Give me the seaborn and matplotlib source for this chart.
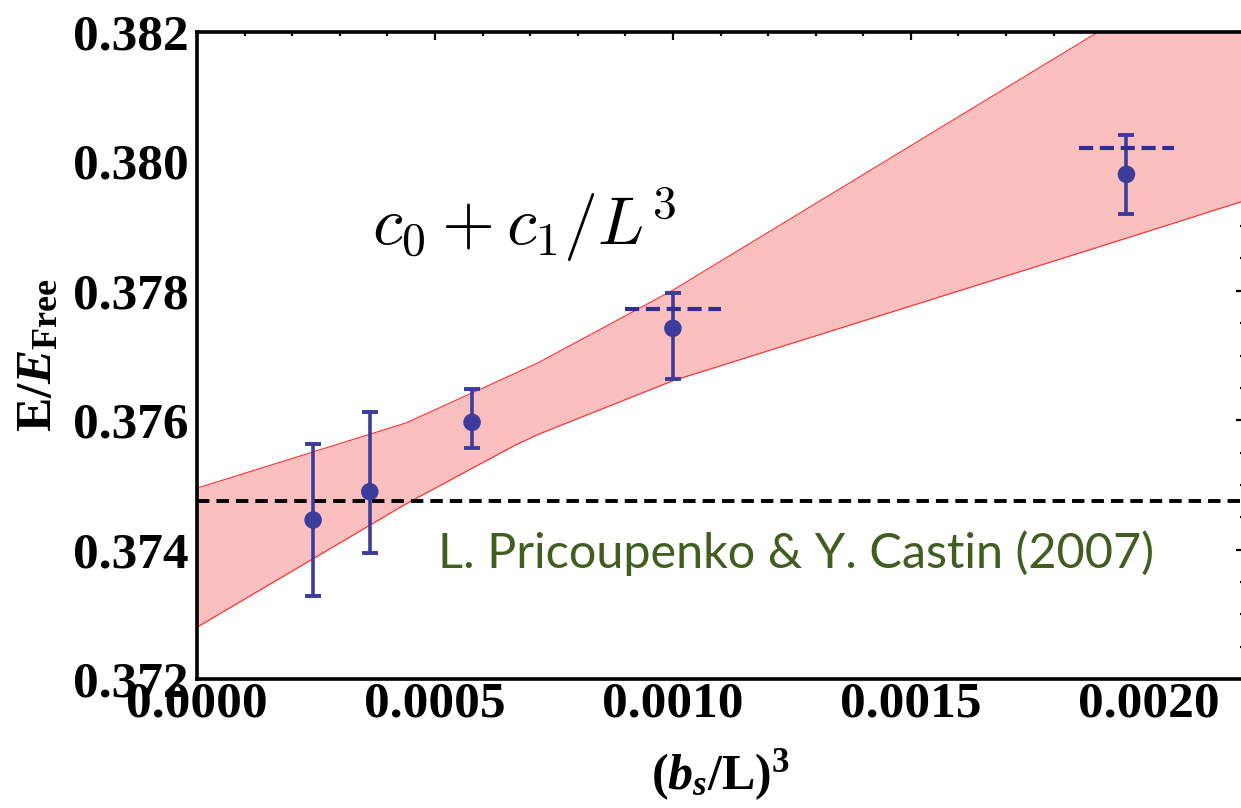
import numpy as np
import pandas as pd
import matplotlib
matplotlib.use("Agg")
import matplotlib.pyplot as plt
import seaborn as sns
from matplotlib.ticker import MultipleLocator, FormatStrFormatter

# ---- data ----
x_pts = [0.000244, 0.000363, 0.000578, 0.001000, 0.001953]
y_pts = [0.374457, 0.374895, 0.375967, 0.377420, 0.379800]
y_err_lo = [0.373283, 0.373947, 0.375575, 0.376637, 0.379192]
y_err_hi = [0.375632, 0.376122, 0.376477, 0.377971, 0.380408]

# dashed horizontal marks at two points
dash_x = [0.001000, 0.001953]
dash_y = [0.377719, 0.380207]
dash_halfwidth = 0.0001

# fit band c0 + c1/L^3
band_x = [0.0, 0.00044, 0.00067, 0.00072, 0.00100, 0.00190, 0.0022]
band_upper = [0.37495, 0.37596, 0.37673, 0.37690, 0.37801, 0.38203, 0.38338]
band_lower = [0.37280, 0.37471, 0.37562, 0.37579, 0.37661, 0.37869, 0.37939]

ref_value = 0.37475  # Pricoupenko & Castin (2007)

x_ticks = [0.0, 0.0005, 0.0010, 0.0015, 0.0020]
y_ticks = [0.372, 0.374, 0.376, 0.378, 0.380, 0.382]

# ---- style ----
sns.set_theme(style="white")
plt.rcParams["font.family"] = ["Liberation Serif", "DejaVu Serif"]
plt.rcParams["text.color"] = "black"
plt.rcParams["axes.labelcolor"] = "black"
plt.rcParams["xtick.color"] = "black"
plt.rcParams["ytick.color"] = "black"
plt.rcParams["mathtext.fontset"] = "custom"
plt.rcParams["mathtext.rm"] = "Liberation Serif:bold"
plt.rcParams["mathtext.bf"] = "Liberation Serif:bold"
plt.rcParams["mathtext.it"] = "Liberation Serif:bold:italic"

fig = plt.figure(figsize=(12.41, 8.08), dpi=100)
ax = fig.add_axes([197 / 1241, (808 - 679) / 808, (1244 - 197) / 1241, (679 - 32) / 808])

blue = "#3c3c9b"

# band
ax.fill_between(band_x, band_lower, band_upper, color="#fbbfbf", linewidth=0, zorder=1)
band_df = pd.DataFrame({"x": band_x, "upper": band_upper, "lower": band_lower})
sns.lineplot(data=band_df, x="x", y="upper", ax=ax, color="#ff2a2a", linewidth=0.8, zorder=2)
sns.lineplot(data=band_df, x="x", y="lower", ax=ax, color="#ff2a2a", linewidth=0.8, zorder=2)

# reference dashed line
ax.axhline(ref_value, color="black", linewidth=2.8, dashes=(3.2, 1.8), zorder=3)

# error bars
yerr = [np.array(y_pts) - np.array(y_err_lo), np.array(y_err_hi) - np.array(y_pts)]
ax.errorbar(x_pts, y_pts, yerr=yerr, fmt="none", ecolor=blue, elinewidth=2.6,
            capsize=6, capthick=2.8, zorder=4)
pts_df = pd.DataFrame({"x": x_pts, "y": y_pts})
sns.scatterplot(data=pts_df, x="x", y="y", ax=ax, color=blue, s=160,
                edgecolor="none", zorder=5)

for dx, dy in zip(dash_x, dash_y):
    ax.plot([dx - dash_halfwidth, dx + dash_halfwidth], [dy, dy], color="#2f2f8f",
            linewidth=3.0, dashes=(3.4, 1.6), zorder=4)

# annotations
ax.text(0.000368, 0.378708, r"$c_0 + c_1/L^3$", fontsize=49, math_fontfamily="cm",
        ha="left", va="baseline", color="black", zorder=6)
ax.text(0.000506, 0.373947, "L. Pricoupenko & Y. Castin (2007)", fontsize=35,
        family=["Lato", "DejaVu Sans"], color="#3f5e20", ha="left", va="center", zorder=6)

# axes
ax.set_xlim(0, 0.0022)
ax.set_ylim(0.372, 0.382)
ax.set_xticks(x_ticks)
ax.set_yticks(y_ticks)
ax.xaxis.set_major_formatter(FormatStrFormatter("%.4f"))
ax.yaxis.set_major_formatter(FormatStrFormatter("%.3f"))
ax.xaxis.set_minor_locator(MultipleLocator(0.0001))
ax.yaxis.set_minor_locator(MultipleLocator(0.0005))
ax.tick_params(which="both", direction="in", top=True, right=True, color="black",
               labelcolor="black", width=1.6)
ax.tick_params(which="major", length=6)
ax.tick_params(which="minor", length=3)
ax.tick_params(axis="x", which="major", labelsize=37, pad=2)
ax.tick_params(axis="y", which="major", labelsize=37, pad=6)
for lab in ax.get_xticklabels() + ax.get_yticklabels():
    lab.set_fontweight("bold")
for sp in ax.spines.values():
    sp.set_color("black")
    sp.set_linewidth(2.6)

ax.set_xlabel(r"$(b_s/\mathrm{L})^3$", fontsize=36, labelpad=14)
ax.set_ylabel(r"$\mathrm{E}/E_{\mathrm{Free}}$", fontsize=37, labelpad=8)

fig.savefig("out.png", dpi=100)
